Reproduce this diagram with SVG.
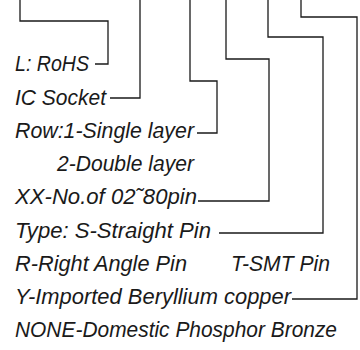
<svg xmlns="http://www.w3.org/2000/svg" width="360" height="350" viewBox="0 0 360 350">
<style>
  .t { font-family: "Liberation Sans", Arial, sans-serif; font-style: italic; font-size: 21.5px; fill: #1a1a1a; }
  .c { fill: none; stroke: #1a1a1a; stroke-width: 1.3; }
</style>
<rect width="360" height="350" fill="#ffffff"/>
<g id="connectors">
  <polyline class="c" points="20,0 20,21 108,21 108,64 95,64"/>
  <polyline class="c" points="140,0 140,98 110,98"/>
  <polyline class="c" points="190,0 190,81 217,81 217,133 197,133"/>
  <polyline class="c" points="226,0 226,59 269,59 269,201 198,201"/>
  <polyline class="c" points="268,0 268,37 323,37 323,233 219,233"/>
  <polyline class="c" points="301,0 301,17 357,17 357,299 292,299"/>
</g>
<g id="rohs"><text class="t" x="15" y="71" textLength="74" lengthAdjust="spacingAndGlyphs">L: RoHS</text></g>
<g id="ic-socket"><text class="t" x="15" y="104.5" textLength="91" lengthAdjust="spacingAndGlyphs">IC Socket</text></g>
<g id="row"><text class="t" x="15" y="137.5" textLength="179" lengthAdjust="spacingAndGlyphs">Row:1-Single layer</text>
  <text class="t" x="57" y="170.5" textLength="137" lengthAdjust="spacingAndGlyphs">2-Double layer</text></g>
<g id="pins"><text class="t" x="15" y="204" textLength="182" lengthAdjust="spacingAndGlyphs">XX-No.of 02˜80pin</text></g>
<g id="type"><text class="t" x="15" y="237.5" textLength="196" lengthAdjust="spacingAndGlyphs">Type: S-Straight Pin</text>
  <text class="t" x="15" y="270.5" textLength="172" lengthAdjust="spacingAndGlyphs">R-Right Angle Pin</text>
  <text class="t" x="231" y="270.5" textLength="99" lengthAdjust="spacingAndGlyphs">T-SMT Pin</text></g>
<g id="material"><text class="t" x="15" y="304" textLength="276" lengthAdjust="spacingAndGlyphs">Y-Imported Beryllium copper</text>
  <text class="t" x="15" y="337" textLength="322" lengthAdjust="spacingAndGlyphs">NONE-Domestic Phosphor Bronze</text></g>
</svg>
